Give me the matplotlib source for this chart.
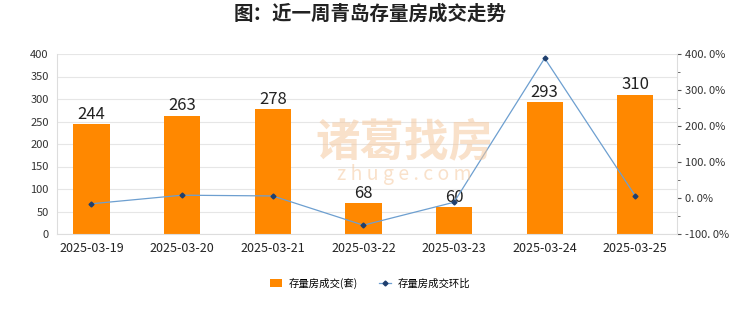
import numpy as np
import matplotlib.pyplot as plt
from matplotlib.lines import Line2D
from matplotlib.patches import Patch

plt.rcParams['font.family'] = ['Noto Sans CJK SC', 'DejaVu Sans']

# Data
dates = ['2025-03-19', '2025-03-20', '2025-03-21', '2025-03-22',
         '2025-03-23', '2025-03-24', '2025-03-25']
deals = [244, 263, 278, 68, 60, 293, 310]
change_pct = [-16.0, 7.8, 5.7, -75.5, -11.8, 388.3, 5.8]
pct_labels = ['-100. 0%', '0. 0%', '100. 0%', '200. 0%', '300. 0%', '400. 0%']

fig = plt.figure(figsize=(7.4, 3.12), dpi=100)
ax = fig.add_axes([57 / 740, 1 - 234 / 312, 620 / 740, 180 / 312])
ax2 = ax.twinx()

x = np.arange(len(dates))

# Watermark
fig.text(0.547, 0.545, '诸葛找房', fontsize=32, color='#f5c9a0', alpha=0.55,
         ha='center', va='center', fontweight='bold', zorder=0)
fig.text(0.547, 0.44, 'z h u g e . c o m', fontsize=14, color='#f5c9a0',
         alpha=0.55, ha='center', va='center', zorder=0)

ax.bar(x, deals, width=0.4, color='#ff8800', zorder=2)
for xi, v in zip(x, deals):
    ax.text(xi, v + 3, str(v), ha='center', va='bottom', fontsize=12,
            color='#222222', zorder=3)

ax.set_ylim(0, 400)
ax.set_yticks(range(0, 401, 50))
ax.set_xlim(-0.38, 6.46)
ax.set_xticks(x)
ax.set_xticklabels(dates)
ax.grid(axis='y', color='#e6e6e6', linewidth=0.8, zorder=0)
ax.set_axisbelow(True)
ax.tick_params(axis='y', length=0, labelsize=8, labelcolor='#333333', pad=6)
ax.tick_params(axis='x', length=0, labelsize=9, labelcolor='#222222', pad=6)
for s in ['top', 'right']:
    ax.spines[s].set_visible(False)
ax.spines['left'].set_color('#dddddd')
ax.spines['bottom'].set_color('#dddddd')

# Week-on-week change line on the right axis
ax2.plot(x, change_pct, color='#6d9fd0', linewidth=0.9, marker='D',
         markersize=2.5, markerfacecolor='#1f3f6e', markeredgecolor='#1f3f6e',
         zorder=4)
ax2.set_ylim(-100, 400)
ax2.set_yticks(range(-100, 401, 100))
ax2.set_yticks(range(-50, 400, 100), minor=True)
ax2.set_yticklabels(pct_labels)
ax2.tick_params(axis='y', which='major', length=3, color='#555555',
                labelsize=8, labelcolor='#333333', pad=3)
ax2.tick_params(axis='y', which='minor', length=2, color='#555555')
for s in ['top', 'left', 'bottom']:
    ax2.spines[s].set_visible(False)
ax2.spines['right'].set_color('#dddddd')

fig.text(0.5, 0.955, '图：近一周青岛存量房成交走势', ha='center', va='center',
         fontsize=14, fontweight='bold', color='#222222')

# Legend
handles = [Patch(facecolor='#ff8800', edgecolor='none'),
           Line2D([0], [0], color='#6d9fd0', linewidth=0.9, marker='D',
                  markersize=2.5, markerfacecolor='#1f3f6e',
                  markeredgecolor='#1f3f6e')]
fig.legend(handles, ['存量房成交(套)', '存量房成交环比'], loc='center',
           bbox_to_anchor=(0.5, 1 - 283 / 312), ncol=2, frameon=False,
           fontsize=7.5, handlelength=1.2, handleheight=0.8, columnspacing=2,
           handletextpad=0.6)

fig.savefig('out.png', dpi=100, facecolor='white')
